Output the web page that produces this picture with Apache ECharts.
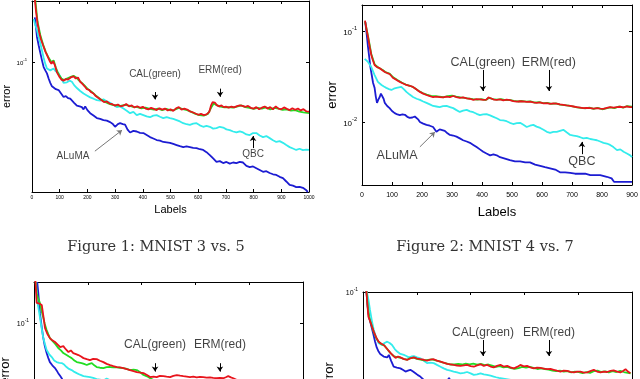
<!DOCTYPE html>
<html>
<head>
<meta charset="utf-8">
<script src="https://cdn.jsdelivr.net/npm/echarts@6.0.0/dist/echarts.min.js"></script>
<style>
html, body { margin: 0; padding: 0; background: #fff; }
#chart { width: 640px; height: 379px; }
</style>
</head>
<body>
<div id="chart"></div>
<script>
// error vs. number of labels ([labels, error])

// Figure 1: MNIST 3 vs. 5
var fig1Aluma = [[10,0.166],[14,0.150],[18,0.133],[24,0.121],[30,0.111],[36,0.102],[42,0.0945],[48,0.091],[54,0.088],[60,0.083],[66,0.079],[72,0.076],[78,0.0745],[86,0.0735],[96,0.0728],[105,0.070],[114,0.0673],[122,0.068],[130,0.0665],[138,0.066],[144,0.065],[152,0.063],[162,0.061],[172,0.0605],[180,0.060],[186,0.0585],[192,0.0605],[200,0.058],[210,0.056],[222,0.0545],[234,0.053],[246,0.0525],[258,0.0518],[270,0.0515],[282,0.0506],[292,0.0495],[300,0.048],[310,0.0495],[318,0.050],[328,0.0495],[336,0.0492],[345,0.0465],[354,0.045],[366,0.0458],[378,0.0455],[390,0.0448],[402,0.0447],[414,0.0437],[426,0.0427],[438,0.0420],[450,0.0413],[462,0.0410],[474,0.0404],[486,0.0402],[498,0.0400],[510,0.0395],[522,0.0390],[534,0.0385],[546,0.0381],[558,0.0384],[570,0.0381],[582,0.0378],[594,0.0377],[606,0.0372],[618,0.0369],[630,0.0360],[642,0.0348],[654,0.0335],[666,0.0322],[678,0.0325],[690,0.0318],[702,0.0322],[714,0.0316],[726,0.0320],[738,0.0318],[750,0.0322],[762,0.0320],[774,0.0308],[786,0.0304],[798,0.0306],[810,0.0300],[822,0.0294],[834,0.0288],[846,0.0290],[858,0.0284],[870,0.0280],[882,0.0278],[894,0.0272],[906,0.0268],[918,0.0258],[930,0.0248],[942,0.0246],[954,0.0242],[966,0.0243],[978,0.0240],[988,0.0235],[996,0.0229]];
var fig1Qbc = [[6,0.163],[12,0.152],[18,0.144],[24,0.133],[30,0.124],[36,0.114],[42,0.105],[48,0.098],[54,0.093],[60,0.091],[66,0.091],[72,0.0925],[78,0.093],[86,0.090],[96,0.088],[104,0.084],[114,0.079],[126,0.0795],[136,0.081],[144,0.080],[152,0.077],[162,0.0745],[174,0.072],[186,0.070],[198,0.0685],[210,0.067],[222,0.066],[234,0.065],[246,0.0645],[258,0.0655],[270,0.064],[282,0.063],[294,0.0615],[306,0.060],[318,0.0605],[330,0.059],[342,0.0575],[354,0.056],[366,0.0568],[378,0.0548],[390,0.0556],[402,0.0548],[414,0.0540],[426,0.0535],[438,0.0545],[450,0.0548],[462,0.0538],[474,0.0530],[486,0.0536],[498,0.0530],[510,0.0525],[522,0.0518],[534,0.0510],[546,0.0500],[558,0.0494],[570,0.0490],[582,0.0497],[594,0.0500],[606,0.0488],[618,0.0480],[630,0.0485],[642,0.0480],[654,0.0470],[666,0.0473],[678,0.0480],[690,0.0476],[702,0.0466],[714,0.0462],[726,0.0455],[738,0.0450],[750,0.0456],[762,0.0450],[774,0.0440],[786,0.0437],[798,0.0447],[810,0.0447],[822,0.0435],[834,0.0427],[846,0.0432],[858,0.0422],[870,0.0412],[882,0.0404],[894,0.0408],[906,0.0400],[918,0.0390],[930,0.0381],[942,0.0375],[954,0.0369],[966,0.0374],[978,0.0368],[990,0.0370],[1000,0.0369]];
var fig1Cal = [[10,0.215],[20,0.158],[30,0.136],[40,0.122],[50,0.112],[60,0.105],[70,0.100],[78,0.102],[86,0.094],[96,0.087],[106,0.083],[116,0.0815],[126,0.083],[140,0.0845],[150,0.0855],[160,0.084],[170,0.081],[180,0.079],[190,0.0765],[200,0.074],[215,0.0715],[230,0.0685],[245,0.066],[260,0.064],[275,0.0625],[290,0.0615],[305,0.0612],[320,0.0608],[335,0.0615],[350,0.0610],[365,0.0602],[380,0.0600],[395,0.0592],[410,0.0596],[425,0.0588],[440,0.0583],[455,0.0590],[470,0.0580],[485,0.0588],[500,0.0578],[515,0.0582],[530,0.0595],[545,0.0586],[560,0.0580],[575,0.0568],[590,0.0556],[605,0.0548],[620,0.0545],[635,0.0555],[648,0.0600],[656,0.0625],[665,0.0615],[680,0.0603],[695,0.0598],[710,0.0600],[725,0.0596],[740,0.0603],[755,0.0612],[770,0.0600],[785,0.0595],[800,0.0588],[815,0.0595],[830,0.0590],[845,0.0598],[860,0.0585],[875,0.0595],[890,0.0590],[905,0.0582],[920,0.0585],[935,0.0576],[950,0.0580],[965,0.0570],[980,0.0565],[1000,0.0560]];
var fig1Erm = [[8,0.22],[14,0.18],[20,0.155],[26,0.140],[32,0.130],[40,0.121],[48,0.113],[56,0.107],[64,0.101],[70,0.098],[76,0.101],[82,0.097],[90,0.089],[98,0.085],[106,0.082],[114,0.081],[122,0.0825],[130,0.082],[140,0.084],[150,0.085],[158,0.083],[166,0.084],[174,0.080],[182,0.078],[190,0.076],[198,0.0735],[206,0.073],[214,0.071],[222,0.070],[230,0.068],[240,0.0665],[250,0.065],[260,0.0635],[270,0.064],[280,0.0625],[290,0.062],[300,0.061],[310,0.0618],[320,0.0605],[330,0.061],[340,0.0622],[350,0.0605],[360,0.0612],[370,0.0598],[380,0.0606],[390,0.0595],[400,0.0602],[410,0.0590],[420,0.0585],[430,0.0595],[440,0.0588],[450,0.0580],[460,0.0592],[470,0.0583],[480,0.0590],[490,0.0578],[500,0.0585],[510,0.0575],[520,0.0592],[530,0.0600],[540,0.0583],[550,0.0590],[560,0.0584],[570,0.0572],[580,0.0566],[590,0.0558],[600,0.0550],[610,0.0556],[620,0.0548],[630,0.0552],[640,0.0568],[646,0.0610],[652,0.0635],[660,0.0632],[668,0.0612],[676,0.0605],[684,0.0612],[692,0.0600],[700,0.0603],[710,0.0596],[720,0.0604],[730,0.0598],[740,0.0607],[750,0.0612],[760,0.0608],[770,0.0602],[780,0.0608],[790,0.0595],[800,0.0590],[810,0.0600],[820,0.0586],[830,0.0596],[840,0.0604],[850,0.0590],[860,0.0600],[870,0.0585],[880,0.0605],[890,0.0590],[900,0.0585],[910,0.0598],[920,0.0588],[930,0.0580],[940,0.0592],[950,0.0582],[960,0.0590],[970,0.0578],[980,0.0586],[990,0.0572],[1000,0.0570]];

// Figure 2: MNIST 4 vs. 7
var fig2Aluma = [[11,0.125],[16,0.090],[20,0.0667],[24,0.052],[28,0.040],[33,0.032],[37,0.0268],[42,0.0237],[46,0.019],[50,0.0162],[54,0.0175],[59,0.0188],[63,0.0205],[67,0.0214],[72,0.018],[76,0.0162],[84,0.0150],[92,0.0142],[100,0.0132],[109,0.0125],[118,0.0121],[126,0.0119],[135,0.0121],[143,0.0120],[151,0.0114],[159,0.0111],[168,0.0112],[176,0.0115],[182,0.0116],[188,0.0106],[193,0.0100],[204,0.0096],[215,0.0093],[226,0.0091],[237,0.0088],[243,0.0084],[248,0.0078],[254,0.0080],[259,0.0083],[265,0.0081],[276,0.0080],[285,0.0075],[293,0.0072],[304,0.0071],[315,0.0069],[326,0.0066],[337,0.0063],[349,0.0061],[360,0.0059],[371,0.0056],[382,0.0053],[393,0.0050],[404,0.0047],[415,0.0045],[427,0.0043],[438,0.0044],[449,0.0043],[460,0.0041],[471,0.0040],[482,0.0039],[493,0.0038],[510,0.0037],[527,0.0037],[544,0.0036],[560,0.0036],[577,0.0034],[594,0.0033],[610,0.0032],[627,0.0031],[644,0.0030],[660,0.0028],[677,0.0028],[694,0.00276],[710,0.0027],[727,0.0027],[744,0.0027],[761,0.0026],[777,0.0026],[794,0.0026],[816,0.0025],[832,0.0024],[840,0.0022],[860,0.0022],[880,0.0022],[900,0.0022]];
var fig2Qbc = [[9,0.0494],[20,0.0457],[31,0.0402],[42,0.0328],[53,0.0276],[65,0.0255],[73,0.0245],[81,0.0237],[90,0.0230],[98,0.0225],[106,0.0232],[115,0.0237],[123,0.0240],[131,0.0243],[140,0.0228],[148,0.0214],[159,0.0200],[170,0.0188],[182,0.0180],[193,0.0175],[204,0.0168],[215,0.0162],[226,0.0156],[237,0.0150],[248,0.0148],[259,0.0146],[270,0.0149],[282,0.0150],[293,0.0146],[304,0.0142],[315,0.0135],[326,0.0129],[337,0.0133],[349,0.0136],[360,0.0131],[371,0.0128],[382,0.0123],[393,0.0119],[404,0.0121],[415,0.0122],[427,0.0118],[438,0.0114],[449,0.0110],[460,0.0105],[471,0.0104],[482,0.0102],[493,0.0098],[504,0.0095],[516,0.0097],[527,0.0098],[538,0.0093],[549,0.0088],[560,0.0091],[571,0.0093],[582,0.0089],[594,0.0086],[605,0.0082],[616,0.0078],[627,0.0076],[638,0.0078],[649,0.0078],[660,0.0080],[671,0.0082],[682,0.0077],[694,0.0072],[705,0.0071],[716,0.0070],[727,0.0068],[738,0.0066],[749,0.0067],[761,0.0065],[772,0.0064],[783,0.0063],[794,0.0061],[805,0.0059],[816,0.0058],[827,0.0056],[838,0.0053],[850,0.0049],[861,0.0050],[872,0.0047],[883,0.0045],[894,0.0043],[900,0.0041]];
var fig2Cal = [[10,0.128],[20,0.088],[31,0.056],[42,0.043],[55,0.0395],[68,0.0375],[80,0.0350],[92,0.0340],[104,0.0310],[118,0.0290],[132,0.0272],[146,0.0258],[160,0.0250],[174,0.0238],[188,0.0220],[202,0.0208],[216,0.0200],[230,0.0194],[244,0.0192],[258,0.0190],[272,0.0187],[286,0.0192],[300,0.0195],[314,0.0190],[328,0.0186],[342,0.0184],[356,0.0181],[370,0.0178],[384,0.0176],[398,0.0178],[412,0.0174],[424,0.0184],[436,0.0178],[450,0.0176],[464,0.0178],[478,0.0174],[492,0.0175],[506,0.0171],[520,0.0168],[534,0.0170],[548,0.0167],[562,0.0168],[576,0.0163],[590,0.0165],[604,0.0161],[618,0.0162],[632,0.0158],[646,0.0160],[660,0.0155],[674,0.0153],[688,0.0151],[702,0.0148],[716,0.0145],[730,0.0143],[744,0.0141],[758,0.0144],[772,0.0139],[786,0.0143],[800,0.0138],[814,0.0141],[828,0.0145],[842,0.0142],[856,0.0148],[870,0.0144],[884,0.0149],[900,0.0147]];
var fig2Erm = [[10,0.130],[15,0.105],[20,0.086],[26,0.066],[31,0.0545],[36,0.048],[42,0.0423],[50,0.040],[59,0.039],[68,0.037],[76,0.0354],[84,0.0345],[92,0.0337],[98,0.032],[104,0.0304],[115,0.029],[126,0.0276],[137,0.0265],[148,0.0255],[159,0.025],[170,0.0243],[182,0.0228],[193,0.0214],[204,0.0205],[215,0.0198],[226,0.0192],[237,0.0188],[248,0.0190],[259,0.0188],[270,0.0186],[282,0.0190],[293,0.0188],[304,0.0193],[315,0.0188],[326,0.0184],[337,0.0186],[349,0.0182],[360,0.0180],[371,0.0175],[382,0.0178],[393,0.0177],[404,0.0175],[415,0.0176],[421,0.0186],[427,0.0188],[433,0.0180],[440,0.0176],[449,0.0175],[460,0.0177],[471,0.0173],[482,0.0176],[493,0.0174],[504,0.0170],[516,0.0167],[527,0.0169],[538,0.0168],[549,0.0166],[560,0.0167],[571,0.0164],[582,0.0162],[593,0.0164],[605,0.0160],[616,0.0161],[627,0.0158],[638,0.0160],[649,0.0159],[660,0.0156],[671,0.0154],[682,0.0152],[694,0.0150],[705,0.0148],[716,0.0146],[727,0.0144],[738,0.0142],[749,0.0143],[761,0.0142],[772,0.0140],[783,0.0142],[794,0.0140],[805,0.0139],[816,0.0143],[827,0.0146],[838,0.0144],[850,0.0146],[861,0.0147],[872,0.0145],[883,0.0148],[894,0.0146],[900,0.0146]];

// third panel (lower left, cut off by the page)
var fig3Aluma = [[12,0.16],[16,0.141],[22,0.112],[28,0.097],[34,0.085],[40,0.077],[47,0.0708],[53,0.067],[59,0.0638],[68,0.0615],[78,0.0596],[84,0.058],[90,0.0562],[97,0.0545],[103,0.053],[110,0.051],[120,0.049],[140,0.046],[160,0.0435],[200,0.040],[250,0.037],[300,0.034],[350,0.032],[400,0.030],[500,0.027],[600,0.025],[700,0.023],[800,0.0215],[900,0.021],[1000,0.0205]];
var fig3Qbc = [[8,0.16],[10,0.133],[16,0.12],[22,0.107],[28,0.095],[34,0.085],[40,0.079],[47,0.0733],[56,0.070],[66,0.0676],[75,0.065],[84,0.0638],[94,0.0632],[103,0.0631],[112,0.062],[121,0.0603],[130,0.059],[140,0.0582],[150,0.057],[159,0.0562],[171,0.0552],[184,0.0543],[196,0.054],[208,0.0537],[220,0.0532],[233,0.0525],[245,0.0522],[258,0.0516],[270,0.0528],[283,0.0518],[300,0.0498],[350,0.0485],[400,0.0470],[450,0.0455],[500,0.0445],[600,0.0425],[700,0.0405],[800,0.039],[900,0.0375],[1000,0.036]];
var fig3Cal = [[6,0.16],[10,0.141],[16,0.132],[22,0.126],[28,0.115],[34,0.107],[40,0.099],[47,0.0923],[53,0.088],[59,0.0841],[66,0.083],[72,0.0804],[81,0.078],[90,0.075],[100,0.073],[109,0.0708],[115,0.0705],[121,0.0692],[130,0.068],[140,0.0668],[150,0.065],[159,0.0638],[168,0.0635],[177,0.0631],[186,0.0625],[196,0.0617],[206,0.0625],[215,0.0631],[224,0.0615],[233,0.0603],[245,0.0598],[258,0.0596],[270,0.0602],[283,0.0603],[295,0.0600],[308,0.0601],[320,0.0598],[332,0.0596],[345,0.0590],[357,0.0582],[370,0.0585],[382,0.0582],[395,0.0568],[407,0.055],[420,0.0542],[432,0.053],[444,0.052],[460,0.051],[500,0.0505],[550,0.050],[600,0.0498],[700,0.0495],[800,0.049],[900,0.0485],[1000,0.048]];
var fig3Erm = [[4,0.175],[10,0.126],[20,0.125],[29,0.123],[35,0.108],[41,0.0944],[50,0.088],[59,0.0841],[68,0.082],[78,0.0804],[88,0.078],[97,0.0759],[109,0.0767],[118,0.074],[128,0.0716],[137,0.073],[146,0.0708],[156,0.070],[165,0.0692],[175,0.068],[184,0.0668],[196,0.066],[208,0.0653],[220,0.0662],[233,0.066],[245,0.0648],[258,0.0638],[270,0.0625],[283,0.0617],[295,0.061],[308,0.0603],[320,0.060],[332,0.0596],[345,0.0588],[357,0.0582],[370,0.0575],[382,0.0569],[395,0.0565],[407,0.0562],[420,0.0550],[432,0.0537],[444,0.0540],[456,0.0537],[468,0.0545],[481,0.0543],[493,0.0540],[506,0.0537],[518,0.0545],[531,0.055],[543,0.0546],[555,0.0543],[568,0.0540],[580,0.0537],[592,0.0540],[605,0.0535],[617,0.0538],[629,0.0537],[642,0.0534],[654,0.0535],[666,0.0532],[679,0.053],[691,0.0532],[704,0.053],[713,0.0536],[722,0.0543],[732,0.0535],[741,0.053],[760,0.0515],[800,0.0505],[850,0.0500],[900,0.0495],[950,0.0490],[1000,0.0488]];

// fourth panel (lower right, cut off by the page)
var fig4Aluma = [[12,0.105],[16,0.085],[20,0.0736],[26,0.066],[33,0.0593],[39,0.054],[45,0.0489],[51,0.045],[58,0.0424],[64,0.041],[71,0.0404],[77,0.0395],[83,0.0385],[90,0.039],[96,0.0404],[105,0.037],[114,0.0341],[126,0.0337],[139,0.0333],[148,0.0326],[158,0.0318],[167,0.0322],[176,0.0326],[186,0.0318],[195,0.031],[204,0.0302],[213,0.0296],[220,0.0289],[226,0.0282],[240,0.0272],[260,0.026],[280,0.0252],[300,0.0258],[312,0.0276],[320,0.029],[328,0.0272],[340,0.0255],[380,0.0245],[450,0.0232],[550,0.022],[650,0.021],[750,0.0198],[850,0.019],[1000,0.018]];
var fig4Qbc = [[12,0.105],[20,0.09],[26,0.0772],[33,0.066],[40,0.0579],[49,0.052],[58,0.0478],[65,0.047],[71,0.0466],[80,0.048],[90,0.0489],[99,0.048],[108,0.0466],[118,0.044],[127,0.0424],[139,0.041],[152,0.0404],[161,0.0398],[170,0.039],[180,0.0395],[189,0.0397],[201,0.039],[213,0.0385],[226,0.0372],[238,0.0359],[250,0.0362],[263,0.0359],[275,0.035],[288,0.0341],[300,0.0333],[313,0.0326],[325,0.0322],[337,0.0318],[350,0.0314],[362,0.031],[375,0.0312],[387,0.0316],[400,0.031],[412,0.0303],[424,0.0305],[437,0.031],[449,0.0305],[461,0.0303],[474,0.0300],[486,0.0296],[495,0.0293],[505,0.029],[550,0.0282],[600,0.0272],[700,0.0255],[800,0.0242],[900,0.0232],[1000,0.0222]];
var fig4Cal = [[12,0.105],[18,0.08],[24,0.068],[32,0.062],[40,0.056],[50,0.051],[60,0.0485],[70,0.047],[80,0.0462],[92,0.0435],[104,0.0412],[116,0.0395],[128,0.0392],[140,0.0388],[152,0.0380],[164,0.0378],[176,0.0386],[188,0.0388],[200,0.0382],[214,0.0378],[228,0.0373],[242,0.0376],[256,0.0379],[270,0.0373],[284,0.0368],[298,0.0362],[312,0.0357],[326,0.0352],[340,0.0352],[354,0.0355],[368,0.0352],[382,0.0356],[396,0.0353],[410,0.0356],[424,0.0351],[438,0.0355],[452,0.0349],[466,0.0352],[480,0.0346],[494,0.0340],[508,0.0344],[522,0.0338],[536,0.0340],[550,0.0334],[564,0.0330],[578,0.0334],[592,0.0340],[606,0.0336],[620,0.0340],[634,0.0335],[648,0.0330],[662,0.0333],[676,0.0330],[690,0.0327],[704,0.0322],[718,0.0320],[732,0.0322],[746,0.0318],[760,0.0320],[774,0.0314],[788,0.0318],[802,0.0315],[816,0.0311],[830,0.0316],[844,0.0312],[858,0.0320],[872,0.0322],[886,0.0316],[900,0.0319],[914,0.0314],[928,0.0320],[942,0.0316],[956,0.0321],[970,0.0316],[984,0.0312],[995,0.0310]];
var fig4Erm = [[12,0.105],[16,0.085],[20,0.0701],[26,0.066],[33,0.061],[40,0.0565],[49,0.052],[58,0.0489],[68,0.0475],[77,0.0466],[90,0.044],[102,0.0416],[112,0.040],[121,0.0387],[130,0.0395],[139,0.039],[151,0.0382],[164,0.0376],[176,0.0385],[189,0.039],[201,0.0383],[213,0.038],[226,0.0377],[238,0.0372],[250,0.0378],[263,0.038],[275,0.0372],[288,0.0367],[300,0.0362],[313,0.0355],[325,0.0353],[337,0.035],[350,0.0347],[362,0.0345],[375,0.0348],[387,0.035],[400,0.0344],[412,0.0341],[424,0.0348],[437,0.0353],[449,0.0345],[461,0.035],[474,0.0342],[486,0.0338],[498,0.0345],[511,0.035],[523,0.0342],[536,0.0345],[548,0.0338],[561,0.0333],[573,0.0340],[585,0.035],[598,0.0343],[610,0.0345],[622,0.0338],[635,0.0333],[647,0.0337],[660,0.0335],[672,0.0332],[684,0.0329],[697,0.033],[709,0.0326],[721,0.0322],[734,0.0318],[746,0.0322],[759,0.0321],[771,0.0317],[784,0.0314],[796,0.0318],[808,0.0318],[821,0.0313],[833,0.0314],[845,0.0320],[858,0.0326],[870,0.0318],[883,0.0314],[895,0.0318],[907,0.0316],[920,0.0321],[932,0.0323],[945,0.0318],[957,0.0314],[968,0.0322],[976,0.0329],[985,0.0318],[994,0.031]];

var captions = ['Figure 1: MNIST 3 vs. 5', 'Figure 2: MNIST 4 vs. 7'];

// line colours, in drawing order (ERM drawn last, on top)
var lineColors = ['#1c1cd2', '#33ecec', '#22dd22', '#e8141c'];

var panels = [
    { left: 32, top: 1, width: 277, height: 191, xMax: 1000, xStep: 100, yMin: 0.0229, yMax: 0.2,
      lines: [fig1Aluma, fig1Qbc, fig1Cal, fig1Erm], tickFont: 5, tickMargin: 3, powFont: 6, nameFont: 11, xGap: 9, yGap: 18, noteFont: 10,
      notes: [['CAL(green)', 444, 0.0873], ['ERM(red)', 679, 0.0913], ['ALuMA', 148, 0.0344], ['QBC', 798, 0.0352]],
      arrows: [[444, 0.0712, 444, 0.0655], [679, 0.0740, 679, 0.0675], [227, 0.0364, 325, 0.0462, '#777'], [798, 0.0377, 798, 0.0432]] },
    { left: 362, top: 5, width: 270, height: 180, xMax: 900, xStep: 100, yMin: 0.00203, yMax: 0.193,
      lines: [fig2Aluma, fig2Qbc, fig2Cal, fig2Erm], tickFont: 7, tickMargin: 7, powFont: 8, nameFont: 13, xGap: 21, yGap: 20, noteFont: 12.5,
      notes: [['CAL(green)', 403, 0.0445], ['ERM(red)', 623, 0.0445], ['ALuMA', 117, 0.0043], ['QBC', 733, 0.00363]],
      arrows: [[403, 0.0373, 403, 0.0219], [623, 0.0373, 623, 0.0219], [193, 0.00533, 243, 0.00775, '#777'], [733, 0.00443, 733, 0.00604]] },
    { left: 34, top: 282, width: 269, height: 178, xMax: 1000, xStep: 200, yMin: 0.0207, yMax: 0.1603,
      lines: [fig3Aluma, fig3Qbc, fig3Cal, fig3Erm], tickFont: 6, tickMargin: 4, powFont: 7, nameFont: 13, xGap: 14, yGap: 22, noteFont: 12,
      notes: [['CAL(green)', 450, 0.0776], ['ERM(red)', 691, 0.0776]],
      arrows: [[450, 0.0630, 450, 0.0572], [691, 0.0630, 691, 0.0572]] },
    { left: 363, top: 292, width: 269, height: 168, xMax: 1000, xStep: 200, yMin: 0.0089, yMax: 0.1,
      lines: [fig4Aluma, fig4Qbc, fig4Cal, fig4Erm], tickFont: 6, tickMargin: 4, powFont: 7, nameFont: 13, xGap: 14, yGap: 27, noteFont: 12,
      notes: [['CAL(green)', 446, 0.0554], ['ERM(red)', 691, 0.0554]],
      arrows: [[446, 0.0501, 446, 0.0398], [691, 0.0501, 691, 0.0398]] }
];

var sans = '"Liberation Sans", Arial, sans-serif';

function powLabel(v) {
    var e = Math.log10(v);
    if (Math.abs(e - Math.round(e)) > 1e-6) return '';
    return '{b|10}{s|' + Math.round(e) + '}';
}

var option = {
    animation: false,
    backgroundColor: '#fff',
    grid: [], xAxis: [], yAxis: [], series: [],
    graphic: captions.map(function (c, i) {
        return {
            type: 'text', x: i === 0 ? 156 : 485, y: 247,
            style: { text: c, font: '14.5px "DejaVu Serif", serif', fill: '#333',
                     textAlign: 'center', align: 'center', textVerticalAlign: 'middle', verticalAlign: 'middle' }
        };
    })
};

panels.forEach(function (p, i) {
    var edge = { show: true, onZero: false, lineStyle: { color: '#000', width: 1 } };
    var tick = { show: true, inside: true, length: 3, lineStyle: { color: '#000' } };
    option.grid.push({ left: p.left, top: p.top, width: p.width, height: p.height,
                       containLabel: false, outerBoundsMode: 'none' });

    option.xAxis.push({
        gridIndex: i, type: 'value', position: 'bottom', min: 0, max: p.xMax, interval: p.xStep,
        axisLine: edge, axisTick: tick, splitLine: { show: false },
        axisLabel: { fontSize: p.tickFont, color: '#000', margin: p.tickMargin, fontFamily: sans,
                     formatter: function (v) { return String(v); } },
        name: 'Labels', nameLocation: 'middle', nameGap: p.xGap,
        nameTextStyle: { fontSize: p.nameFont, color: '#000', fontFamily: sans }
    });
    option.xAxis.push({
        gridIndex: i, type: 'value', position: 'top', min: 0, max: p.xMax, interval: p.xStep,
        axisLine: edge, axisTick: tick, splitLine: { show: false }, axisLabel: { show: false }
    });
    option.yAxis.push({
        gridIndex: i, type: 'log', position: 'left', min: p.yMin, max: p.yMax,
        axisLine: edge, axisTick: tick, splitLine: { show: false },
        axisLabel: {
            formatter: powLabel, margin: 5, color: '#000', fontFamily: sans,
            rich: {
                b: { fontSize: p.powFont, fontFamily: sans, color: '#000', padding: [3, 0, 0, 0], verticalAlign: 'bottom' },
                s: { fontSize: p.powFont * 0.7, fontFamily: sans, color: '#000', verticalAlign: 'top' }
            }
        },
        name: 'error', nameLocation: 'middle', nameRotate: 90, nameGap: p.yGap,
        nameTextStyle: { fontSize: p.nameFont, color: '#000', fontFamily: sans }
    });
    option.yAxis.push({
        gridIndex: i, type: 'log', position: 'right', min: p.yMin, max: p.yMax,
        axisLine: edge, axisTick: tick, splitLine: { show: false }, axisLabel: { show: false }
    });

    p.lines.forEach(function (d, k) {
        option.series.push({
            type: 'line', xAxisIndex: 2 * i, yAxisIndex: 2 * i, data: d,
            showSymbol: false, symbol: 'none', clip: true,
            lineStyle: { color: lineColors[k], width: 1.8 }
        });
    });

    // text notes and arrows, placed in data coordinates
    option.series.push({
        type: 'scatter', xAxisIndex: 2 * i, yAxisIndex: 2 * i, silent: true,
        symbolSize: 1, itemStyle: { color: 'rgba(0,0,0,0)' },
        data: p.notes.map(function (n) { return { name: n[0], value: [n[1], n[2]] }; }),
        label: { show: true, position: 'inside', formatter: '{b}', color: '#111',
                 fontSize: p.noteFont, fontFamily: sans },
        markLine: {
            silent: true, symbol: ['none', 'arrow'], symbolSize: 5,
            label: { show: false },
            lineStyle: { color: '#000', width: 1, type: 'solid' },
            data: p.arrows.map(function (a) {
                return [{ coord: [a[0], a[1]], lineStyle: { color: a[4] || '#000' } }, { coord: [a[2], a[3]] }];
            })
        }
    });
});

var chart = echarts.init(document.getElementById('chart'));
chart.setOption(option);
</script>
</body>
</html>
